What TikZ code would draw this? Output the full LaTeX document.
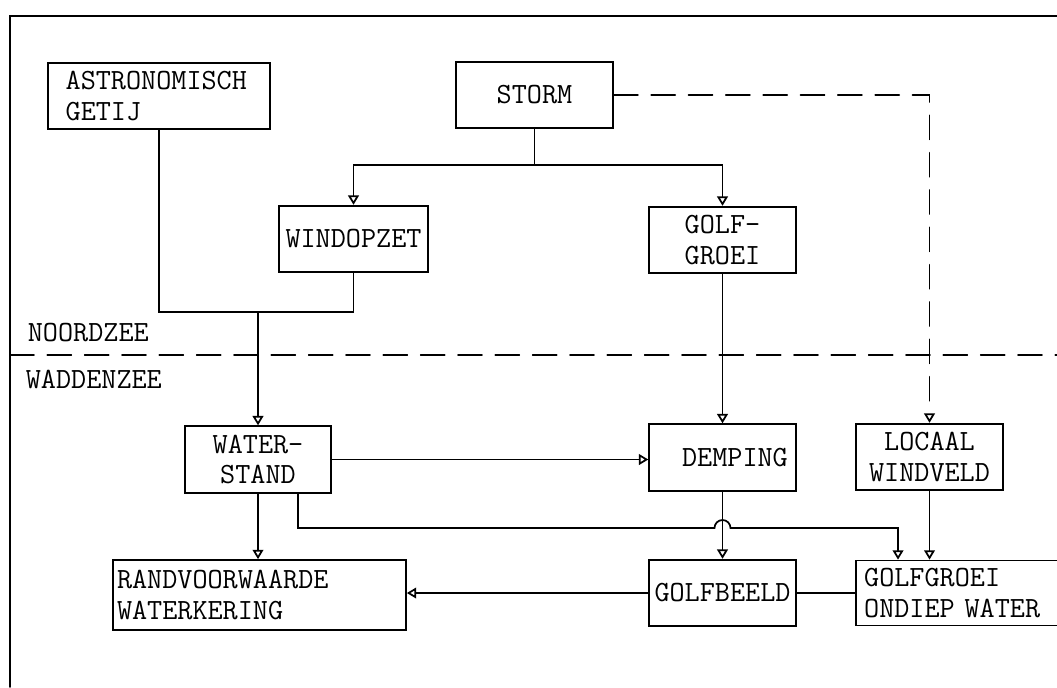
\documentclass[tikz,border=0pt]{standalone}
\usepackage{fontspec}
\usetikzlibrary{arrows.meta}

\begin{document}
\begin{tikzpicture}[x=0.75pt,y=-0.75pt,line width=1.3pt,line cap=round,
  font=\ttfamily\fontsize{22}{23}\selectfont,
  blok/.style={draw,minimum width=110pt,minimum height=50pt,inner sep=3pt,align=center},
  links/.style={blok,align=left,text width=#1},
  pijl/.style={-{Triangle[open,length=7pt,width=8pt]}},
  streep/.style={dash pattern=on 18pt off 10pt}]
\useasboundingbox (0,0) rectangle (1057,687);
\clip (0,0) rectangle (1057,687);
\draw (10,687) -- (10,16) -- (1057,16);
\draw[streep] (10,355) -- (1057,355);
\node[anchor=base west,inner sep=0pt] (nz) at (27,341) {NOORDZEE};
\node[anchor=base west,inner sep=0pt] (wz) at (25,388) {WADDENZEE};
\node[links=140pt,inner xsep=13pt,minimum height=49.5pt] (astro) at (159,96) {ASTRONOMISCH\\GETIJ};
\node[blok,minimum width=117.75pt,minimum height=49.5pt] (storm) at (534.5,95) {STORM};
\node[blok,minimum width=111.75pt,inner xsep=2pt] (windop) at (353.5,239) {WINDOPZET};
\node[blok] (golf) at (722.5,240) {GOLF-\\GROEI};
\node[blok] (water) at (258,459.5) {WATER-\\STAND};
\node[blok,align=right,text width=98pt] (demp) at (722.5,457.5) {DEMPING};
\node[blok] (locaal) at (929.5,457) {LOCAAL\\WINDVELD};
\node[links=213.75pt,minimum height=52.5pt] (rand) at (259.5,595) {RANDVOORWAARDE\\WATERKERING};
\node[blok,inner xsep=1pt] (beeld) at (722.5,593) {GOLFBEELD};
\node[links=152pt,inner xsep=6pt,minimum height=48.75pt] (ondiep) at (965.5,593) {GOLFGROEI\\ONDIEP WATER};
\coordinate (j1) at (258,312);
\coordinate (j2) at (534.5,165);
\coordinate (ws) at ([xshift=30pt]water.south);
\coordinate (in1) at ([xshift=-50.6pt]ondiep.north);
\draw (astro.south) |- (j1) -| (windop.south);
\draw[pijl] (j1) -- (water.north);
\draw (storm.south) -- (j2);
\draw[pijl] (j2) -| (windop.north);
\draw[pijl] (j2) -| (golf.north);
\draw[pijl,streep] (storm.east) -| (locaal.north);
\draw[pijl] (golf.south) -- (demp.north);
\draw[pijl] (water.east) -- (water.east -| demp.west);
\draw[pijl] (water.south) -- (water.south |- rand.north);
\draw[pijl] (ws) |- (714.5,528) arc[start angle=180,end angle=360,radius=8] -| (in1);
\draw[pijl] (demp.south) -- (beeld.north);
\draw[pijl] (locaal.south) -- (locaal.south |- ondiep.north);
\draw (ondiep.west) -- (ondiep.west -| beeld.east);
\draw[pijl] (beeld.west) -- (beeld.west -| rand.east);
\end{tikzpicture}
\end{document}
